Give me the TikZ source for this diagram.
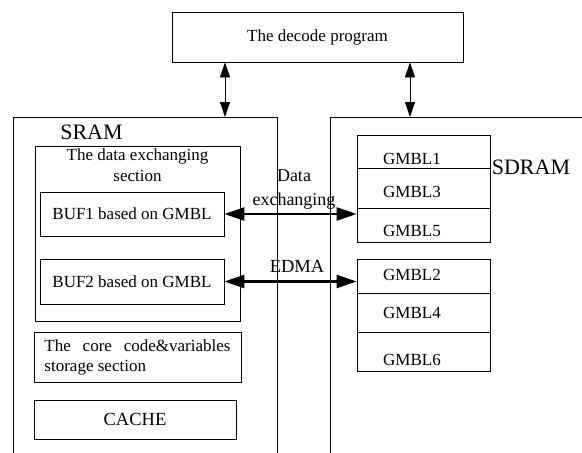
\documentclass[tikz,border=0pt]{standalone}
\usepackage{fontspec}
\setmainfont{Liberation Serif}
\usetikzlibrary{arrows.meta,positioning}
\newcommand{\fsz}[1]{\fontsize{#1}{1.2\dimexpr#1pt\relax}\selectfont}

\begin{document}
\begin{tikzpicture}[x=1pt,y=-1pt,font=\fontsize{17}{21}\selectfont,
    box/.style={draw,line width=0.8pt,inner sep=0pt},
    slim/.style={<->,line width=0.8pt,>={Triangle[length=15pt,width=10pt]}},
    wide/.style={<->,line width=2.4pt,>={Triangle[length=20pt,width=13pt]}}]
  \clip (0,0) rectangle (582,453);
  % decode program on top
  \node[box,minimum width=291pt,minimum height=50pt] (dec) at (317.5,37) {The decode program};
  % the two memories, cut off by the frame
  \node[box,minimum width=264pt,minimum height=360pt,anchor=north west] (sram) at (13,117) {};
  \node[box,minimum width=280pt,minimum height=360pt,anchor=north west] (sdram) at (330,117) {};
  \node[font=\fsz{22}] (sramt) at (91.5,132) {SRAM};
  \node[font=\fsz{22}] (sdramt) at (531,167) {SDRAM};
  \coordinate (ta) at (225,0);
  \coordinate (tb) at (410,0);
  \draw[slim] (dec.south -| ta) -- (sram.north -| ta);
  \draw[slim] (dec.south -| tb) -- (sdram.north -| tb);
  % SRAM sections
  \node[box,minimum width=205pt,minimum height=175pt] (xsec) at (137.5,233.5) {};
  \node[align=center,below=0pt of xsec.north] (xsect) {The data exchanging\\section};
  \node[box,minimum width=184pt,minimum height=44pt] (buf1) at (132,214) {BUF1 based on GMBL};
  \node[box,minimum width=184pt,minimum height=45pt] (buf2) at (132,281.5) {BUF2 based on GMBL};
  \node[box,minimum width=207pt,minimum height=50pt,align=left,font=\fontsize{17}{20}\selectfont]
        (core) at (137.5,357) {\makebox[186pt][s]{The core code\&variables}\\storage section};
  \node[box,minimum width=202pt,minimum height=39pt,font=\fsz{18.5}] (cache) at (135,419.5) {CACHE};
  % SDRAM blocks
  \node[box,minimum width=133pt,minimum height=107pt] (gup) at (423.5,188.5) {};
  \node[box,minimum width=133pt,minimum height=112pt] (glo) at (423.5,315) {};
  \foreach \y in {168,208,293,332}
    \draw[line width=0.8pt] (357,\y) -- (490,\y);
  \foreach \n/\y in {1/159,3/192,5/231,2/275,4/313,6/360}
    \node (g\n) at (412,\y) {GMBL\n};
  % transfers between the buffers and SDRAM
  \draw[wide] (buf1.east) -- (buf1.east -| gup.west);
  \draw[wide] (buf2.east) -- (buf2.east -| glo.west);
  \node[align=center,font=\fontsize{18}{24}\selectfont] (dxl) at (294,190) {Data\\exchanging};
  \node[font=\fsz{18.5}] (edma) at (297,266) {EDMA};
\end{tikzpicture}
\end{document}
